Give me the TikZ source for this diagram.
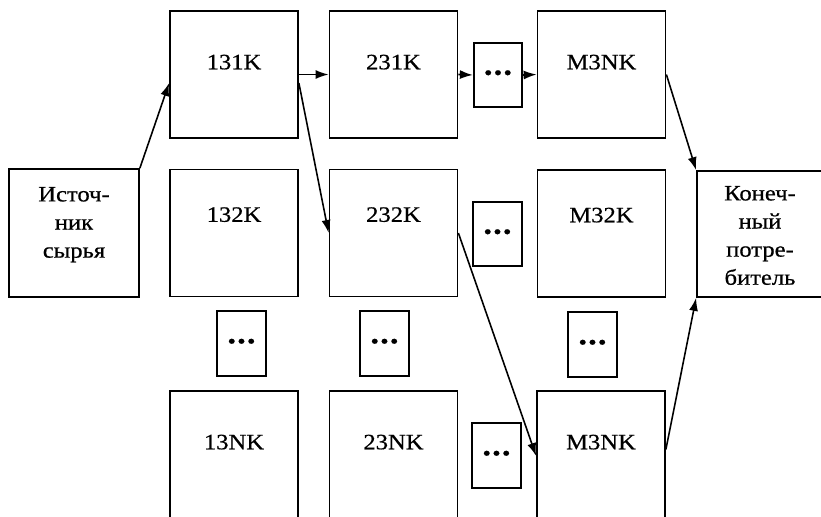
\documentclass[tikz,border=0pt]{standalone}
\usepackage{fontspec}
\setmainfont{Liberation Serif}[FakeStretch=1.12,FakeBold=0.6]
\usetikzlibrary{arrows.meta}

\begin{document}
\begin{tikzpicture}[>={Latex[length=2.6mm,width=1.8mm]}, line width=1pt,
  box/.style={draw, minimum width=2.56cm, minimum height=2.54cm, inner sep=0},
  gap/.style={draw, minimum width=0.97cm, minimum height=1.29cm, inner sep=0, font=\fontsize{12}{12}\selectfont},
  txt/.style={inner sep=0, font=\fontsize{12.5}{16}\selectfont},
  arr/.style={->, line width=0.9pt}]
  \useasboundingbox (0,0) rectangle (16.42,10.32);
  % источник и потребитель
  \node[box, minimum width=2.6cm, minimum height=2.56cm] (src) at (1.48,5.66) {};
  \node[txt, anchor=north, align=center] (tsrc) at ([yshift=-0.36cm]src.north) {Источ-\\ник\\сырья};
  \node[box, minimum width=2.52cm, minimum height=2.52cm] (con) at (15.2,5.64) {};
  \node[txt, anchor=north, align=center] (tcon) at ([yshift=-0.3cm]con.north) {Конеч-\\ный\\потре-\\битель};
  % ряд 1
  \node[box] (c11) at (4.68,8.83) {};
  \node[box] (c21) at (7.87,8.83) {};
  \node[gap] (d1) at (9.96,8.82) {•\kern.07em•\kern.07em•};
  \node[box] (cM1) at (12.03,8.83) {};
  \node[txt] (t11) at ([yshift=-1.04cm]c11.north) {131K};
  \node[txt] (t21) at ([yshift=-1.04cm]c21.north) {231K};
  \node[txt] (tM1) at ([yshift=-1.04cm]cM1.north) {M3NK};
  % ряд 2
  \node[box] (c12) at (4.68,5.66) {};
  \node[box] (c22) at (7.87,5.66) {};
  \node[gap] (d2) at (9.95,5.64) {•\kern.07em•\kern.07em•};
  \node[box] (cM2) at (12.03,5.65) {};
  \node[txt] (t12) at ([yshift=-0.92cm]c12.north) {132K};
  \node[txt] (t22) at ([yshift=-0.92cm]c22.north) {232K};
  \node[txt] (tM2) at ([yshift=-0.92cm]cM2.north) {M32K};
  % вертикальные пропуски
  \node[gap] (v1) at (4.83,3.45) {•\kern.07em•\kern.07em•};
  \node[gap] (v2) at (7.69,3.45) {•\kern.07em•\kern.07em•};
  \node[gap] (v3) at (11.85,3.43) {•\kern.07em•\kern.07em•};
  % ряд N
  \node[box, minimum height=2.6cm] (c13) at (4.68,1.2) {};
  \node[box, minimum height=2.6cm] (c23) at (7.87,1.2) {};
  \node[gap] (d3) at (9.93,1.21) {•\kern.07em•\kern.07em•};
  \node[box, minimum height=2.6cm] (cM3) at (12.02,1.2) {};
  \node[txt] (t13) at ([yshift=-1.04cm]c13.north) {13NK};
  \node[txt] (t23) at ([yshift=-1.04cm]c23.north) {23NK};
  \node[txt] (tM3) at ([yshift=-1.04cm]cM3.north) {M3NK};
  % связи
  \draw[arr] (src.north east) -- ([yshift=-0.17cm]c11.west);
  \draw[arr] (c11.east) -- (c21.west);
  \draw[arr] ([yshift=-0.17cm]c11.east) -- (c22.west);
  \draw[arr] (c21.east) -- (d1.west);
  \draw[arr] (d1.east) -- (cM1.west);
  \draw[arr] (cM1.east) -- (con.north west);
  \draw[arr] (c22.east) -- (cM3.west);
  \draw[arr] ([yshift=0.13cm]cM3.east) -- (con.south west);
\end{tikzpicture}
\end{document}
